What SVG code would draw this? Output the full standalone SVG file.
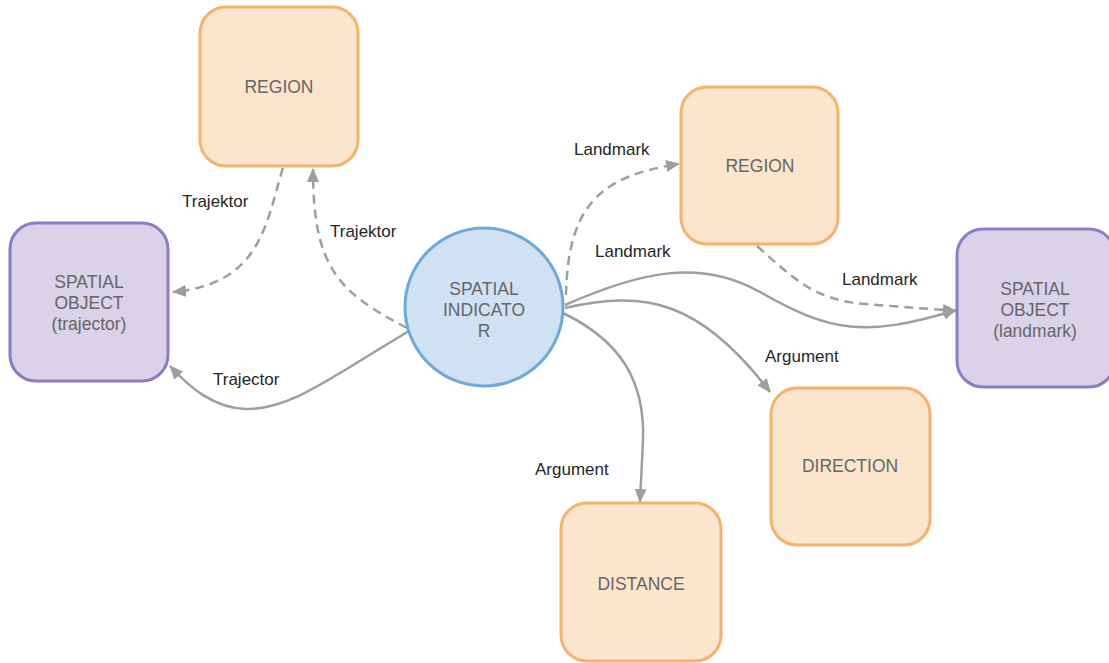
<svg xmlns="http://www.w3.org/2000/svg" width="1109" height="663" viewBox="0 0 1109 663">
  <style>
    .orange { fill: #fce5cd; stroke: #f6b26b; stroke-width: 3; }
    .purple { fill: #d9d2e9; stroke: #8e7cc3; stroke-width: 3; }
    .blue { fill: #cfe2f3; stroke: #6fa8dc; stroke-width: 3; }
    .ntext { font-family: "Liberation Sans", Arial, sans-serif; font-size: 17.5px; fill: #666666; text-anchor: middle; }
    .edge { fill: none; stroke: #9e9e9e; stroke-width: 2.5; marker-end: url(#arrow); }
    .dash { stroke-dasharray: 9 6; }
    .elabel { font-family: "Liberation Sans", Arial, sans-serif; font-size: 17px; fill: #262626; }
  </style>
  <defs>
    <marker id="arrow" viewBox="0 0 14 12" refX="13" refY="6" markerWidth="14" markerHeight="12" markerUnits="userSpaceOnUse" orient="auto">
      <path d="M0,0 L14,6 L0,12 Z" fill="#9e9e9e"/>
    </marker>
  </defs>
  <rect width="1109" height="663" fill="#ffffff"/>

  <g id="connectors">
    <!-- region (top) to trajector object -->
    <path class="edge dash" d="M283,168 C266,222 262,284 173,292"/>
    <!-- indicator to region (top) -->
    <path class="edge dash" d="M407,328 C338,292 313,268 313,169"/>
    <!-- indicator to trajector object -->
    <path class="edge" d="M409,331 C330,378 290,410 246,409 C214,408 190,388 170,366"/>
    <!-- indicator to region (right) -->
    <path class="edge dash" d="M566,295 C568,205 600,176 679,164"/>
    <!-- indicator to landmark object -->
    <path class="edge" d="M565,305 C640,272 700,258 760,292 C830,332 865,338 956,310"/>
    <!-- region (right) to landmark object -->
    <path class="edge dash" d="M757,246 C795,280 815,300 865,304 L956,311"/>
    <!-- indicator to direction -->
    <path class="edge" d="M565,308 C645,290 700,300 770,392"/>
    <!-- indicator to distance -->
    <path class="edge" d="M561,312 C620,340 645,380 643,440 L640,502"/>
  </g>

  <g id="edge-labels">
    <text class="elabel" x="182" y="207">Trajektor</text>
    <text class="elabel" x="330" y="237">Trajektor</text>
    <text class="elabel" x="213" y="385">Trajector</text>
    <text class="elabel" x="574" y="155">Landmark</text>
    <text class="elabel" x="595" y="257">Landmark</text>
    <text class="elabel" x="842" y="285">Landmark</text>
    <text class="elabel" x="765" y="362">Argument</text>
    <text class="elabel" x="535" y="475">Argument</text>
  </g>

  <g id="region-top">
    <rect class="orange" x="200" y="7" width="158" height="159" rx="26"/>
    <text class="ntext" x="279" y="93">REGION</text>
  </g>

  <g id="spatial-object-trajector">
    <rect class="purple" x="10" y="223" width="158" height="158" rx="26"/>
    <text class="ntext" x="89" y="288">SPATIAL</text>
    <text class="ntext" x="89" y="309">OBJECT</text>
    <text class="ntext" x="89" y="330">(trajector)</text>
  </g>

  <g id="spatial-indicator">
    <circle class="blue" cx="484" cy="307" r="79"/>
    <text class="ntext" x="484" y="295">SPATIAL</text>
    <text class="ntext" x="484" y="316">INDICATO</text>
    <text class="ntext" x="484" y="337">R</text>
  </g>

  <g id="region-right">
    <rect class="orange" x="681" y="87" width="157" height="157" rx="26"/>
    <text class="ntext" x="760" y="172">REGION</text>
  </g>

  <g id="spatial-object-landmark">
    <rect class="purple" x="957" y="229" width="158" height="158" rx="26"/>
    <text class="ntext" x="1035" y="295">SPATIAL</text>
    <text class="ntext" x="1035" y="316">OBJECT</text>
    <text class="ntext" x="1035" y="337">(landmark)</text>
  </g>

  <g id="direction">
    <rect class="orange" x="771" y="388" width="159" height="157" rx="26"/>
    <text class="ntext" x="850" y="472">DIRECTION</text>
  </g>

  <g id="distance">
    <rect class="orange" x="561" y="503" width="160" height="158" rx="26"/>
    <text class="ntext" x="641" y="590">DISTANCE</text>
  </g>
</svg>
